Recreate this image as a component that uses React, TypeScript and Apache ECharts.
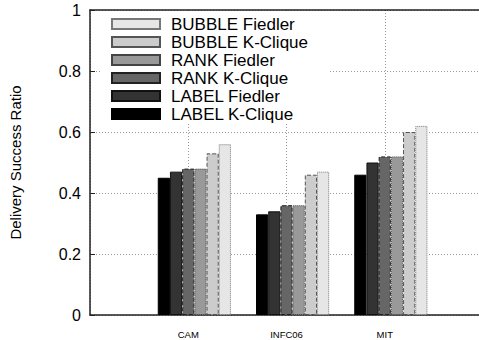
import React, { useEffect, useRef } from "react";
import * as echarts from "echarts";

const categories = ["CAM", "INFC06", "MIT"];
const labelKClique = [0.45, 0.33, 0.46];
const labelFiedler = [0.47, 0.34, 0.5];
const rankKClique = [0.48, 0.36, 0.52];
const rankFiedler = [0.48, 0.36, 0.52];
const bubbleKClique = [0.53, 0.46, 0.6];
const bubbleFiedler = [0.56, 0.47, 0.62];
const yTicks = [0, 0.2, 0.4, 0.6, 0.8, 1];

const FONT = "'Liberation Sans', Arial, Helvetica, sans-serif";

export default function App() {
  const ref = useRef<HTMLDivElement>(null);
  useEffect(() => {
    if (!ref.current) return;
    const chart = echarts.init(ref.current, undefined, { renderer: "svg" });
    const paddedCats = ["", ...categories, ""];
    const pad = (arr: number[]) => ["-", ...arr, "-"];
    const seriesDefs = [
      { name: "LABEL K-Clique", data: labelKClique, color: "#000000", border: "#000000", type: "solid" },
      { name: "LABEL Fiedler", data: labelFiedler, color: "#333333", border: "#111111", type: "solid" },
      { name: "RANK K-Clique", data: rankKClique, color: "#666666", border: "#222222", type: "dashed" },
      { name: "RANK Fiedler", data: rankFiedler, color: "#999999", border: "#444444", type: "dotted" },
      { name: "BUBBLE K-Clique", data: bubbleKClique, color: "#cccccc", border: "#555555", type: "dashed" },
      { name: "BUBBLE Fiedler", data: bubbleFiedler, color: "#e6e6e6", border: "#777777", type: "dotted" },
    ];
    const gridLine = { show: true, lineStyle: { color: "#999", type: [1, 2] as any, width: 1 } };
    const barSeries = seriesDefs.map((s) => ({
      name: s.name,
      type: "bar",
      data: pad(s.data),
      barWidth: 12.2,
      barGap: "0%",
      itemStyle: {
        color: s.color,
        borderColor: s.border,
        borderWidth: 1,
        borderType: s.type,
      },
    }));
    // empty slot that shifts each cluster right of its tick, as in the source figure
    const spacer = {
      name: "spacer",
      type: "bar",
      data: paddedCats.map(() => "-"),
      barWidth: 12.2,
      barGap: "0%",
      silent: true,
    };
    chart.setOption({
      animation: false,
      backgroundColor: "#fff",
      textStyle: { fontFamily: FONT },
      grid: { left: 89, top: 10, width: 394, height: 305, show: false },
      legend: {
        orient: "vertical",
        left: 100,
        top: 11.5,
        padding: [4, 22, 0, 11],
        backgroundColor: "#fff",
        itemWidth: 48,
        itemHeight: 10,
        itemGap: 1,
        icon: "rect",
        data: seriesDefs.map((s) => s.name).reverse(),
        textStyle: { fontSize: 17, color: "#000", fontFamily: FONT, padding: [0, 0, 0, 6] },
      },
      xAxis: [
        {
          type: "category",
          data: paddedCats,
          boundaryGap: false,
          axisLine: { show: true, lineStyle: { color: "#222", width: 1.5 } },
          axisTick: { show: false },
          axisLabel: { fontSize: 9.5, color: "#000", margin: 14, interval: 0, fontFamily: FONT },
          splitLine: { ...gridLine, interval: 0 },
        },
        {
          type: "category",
          position: "top",
          data: paddedCats,
          boundaryGap: false,
          axisLine: { show: true, lineStyle: { color: "#222", width: 1.5 } },
          axisTick: { show: false },
          axisLabel: { show: false },
          splitLine: { show: false },
        },
      ],
      yAxis: {
        type: "value",
        min: 0,
        max: 1,
        interval: 0.2,
        axisLine: { show: true, lineStyle: { color: "#222", width: 1.5 } },
        axisTick: { show: true, inside: true, length: 5, lineStyle: { color: "#222" } },
        axisLabel: {
          fontSize: 16,
          color: "#000",
          margin: 9,
          fontFamily: FONT,
          formatter: (v: number) => {
            const t = yTicks.find((x) => Math.abs(x - v) < 1e-6);
            return t === undefined ? "" : String(t);
          },
        },
        splitLine: gridLine,
        name: "Delivery Success Ratio",
        nameLocation: "middle",
        nameRotate: 90,
        nameGap: 67,
        nameTextStyle: { fontSize: 15, color: "#000", fontFamily: FONT },
      },
      series: [spacer, ...barSeries],
    });
    return () => chart.dispose();
  }, []);
  return (
    <div style={{ position: "fixed", left: 0, top: 0, width: 479, height: 340, overflow: "hidden", background: "#fff" }}>
      <div ref={ref} style={{ width: 500, height: 340 }} />
    </div>
  );
}
